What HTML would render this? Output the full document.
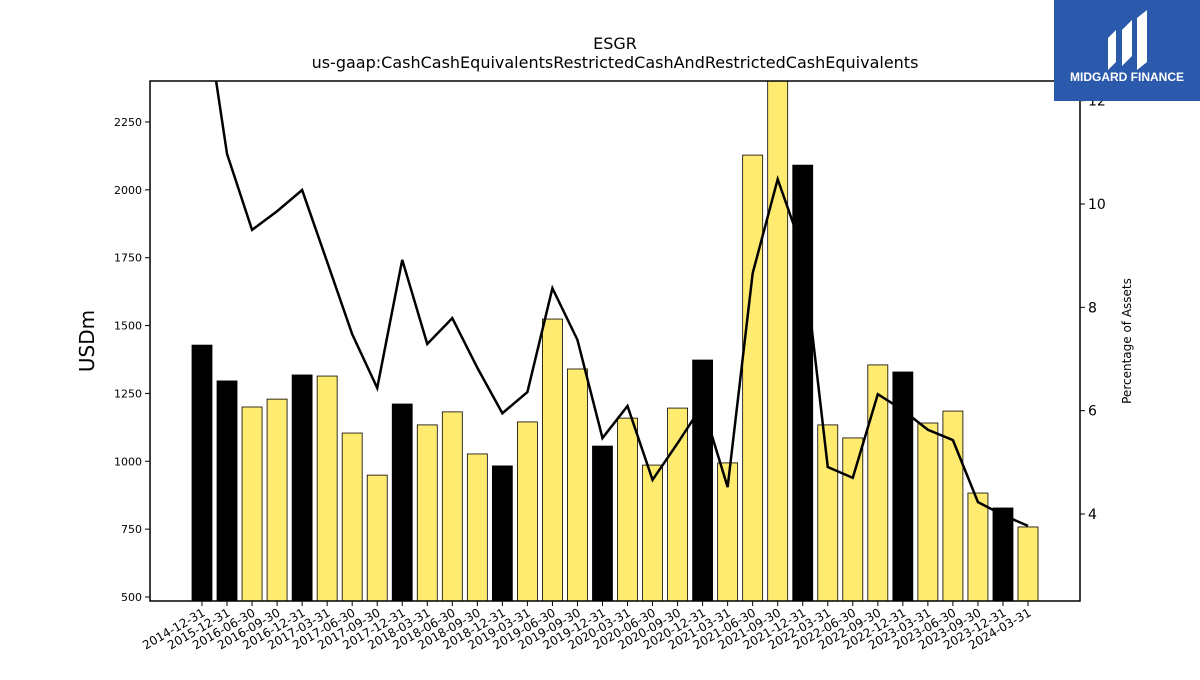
<!DOCTYPE html>
<html><head><meta charset="utf-8"><style>
body{margin:0;background:#fff;font-family:"Liberation Sans","DejaVu Sans",sans-serif}
</style></head><body>
<svg width="1200" height="675" viewBox="0 0 1200 675" xmlns="http://www.w3.org/2000/svg" id="chart" font-family="DejaVu Sans, Liberation Sans, sans-serif">
<text x="615" y="49" text-anchor="middle" font-size="16">ESGR</text>
<text x="615" y="68" text-anchor="middle" font-size="16">us-gaap:CashCashEquivalentsRestrictedCashAndRestrictedCashEquivalents</text>
<text transform="translate(94,341) rotate(-90)" text-anchor="middle" font-size="20">USDm</text>
<text transform="translate(1131,341) rotate(-90)" text-anchor="middle" font-size="12">Percentage of Assets</text>
<g id="bars"></g>
<g id="line"></g>
<g id="axes"></g>
<rect x="150" y="81" width="930" height="520" fill="none" stroke="#000" stroke-width="1.5"/>
<g>
<rect x="1054" y="0" width="146" height="101" fill="#2b5aad"/>
<path d="M1108 70 L1108 38 L1116 30 L1116 62 Z M1122 66 L1122 30 L1132 20 L1132 56 Z M1137 70 L1137 18 L1147 10 L1147 62 Z" fill="#fff"/>
<text x="1127" y="81" text-anchor="middle" font-size="12" font-weight="bold" fill="#fff" font-family="Liberation Sans, sans-serif">MIDGARD FINANCE</text>
</g>
</svg>
<script>
const categories=["2014-12-31","2015-12-31","2016-06-30","2016-09-30","2016-12-31","2017-03-31","2017-06-30","2017-09-30","2017-12-31","2018-03-31","2018-06-30","2018-09-30","2018-12-31","2019-03-31","2019-06-30","2019-09-30","2019-12-31","2020-03-31","2020-06-30","2020-09-30","2020-12-31","2021-03-31","2021-06-30","2021-09-30","2021-12-31","2022-03-31","2022-06-30","2022-09-30","2022-12-31","2023-03-31","2023-06-30","2023-09-30","2023-12-31","2024-03-31"];
const cashValues=[1428,1296,1200,1229,1318,1314,1104,949,1211,1134,1182,1027,983,1145,1524,1340,1056,1159,986,1196,1373,994,2128,2450,2091,1134,1086,1355,1329,1141,1185,883,828,758];
const pctValues=[14.2,10.97,9.5,9.86,10.27,8.88,7.48,6.44,8.92,7.29,7.79,6.83,5.95,6.36,8.37,7.37,5.47,6.09,4.66,5.37,6.11,4.52,8.66,10.48,9.1,4.91,4.70,6.32,6.01,5.63,5.43,4.23,3.98,3.77];
const leftTicks=[500,750,1000,1250,1500,1750,2000,2250];
const rightTicks=[4,6,8,10,12];
const NS="http://www.w3.org/2000/svg";
const L=150,R=1080,T=81,B=601;
const yL=v=>597-(v-500)/250*67.86;
const yR=v=>514-(v-4)/2*103.33;
const xC=i=>202+i*(1028-202)/(categories.length-1);
function mk(tag,attrs,parent){const e=document.createElementNS(NS,tag);for(const k in attrs)e.setAttribute(k,attrs[k]);parent.appendChild(e);return e;}
const bars=document.getElementById('bars'),line=document.getElementById('line'),axes=document.getElementById('axes');
const defs=mk('defs',{},bars);const cp=mk('clipPath',{id:'clip'},defs);mk('rect',{x:L,y:T,width:R-L,height:B-T},cp);
bars.setAttribute('clip-path','url(#clip)');line.setAttribute('clip-path','url(#clip)');
cashValues.forEach((v,i)=>{const y=yL(v);const isYE=categories[i].endsWith('12-31');
const r=mk('rect',{x:xC(i)-10,y:y,width:20,height:B-y,fill:isYE?'#000':'#ffeb70',stroke:'#000','stroke-width':0.8},bars);

});
const p=mk('polyline',{points:pctValues.map((v,i)=>xC(i)+','+yR(v)).join(' '),fill:'none',stroke:'#000','stroke-width':2.5},line);


leftTicks.forEach(v=>{const y=yL(v);mk('line',{x1:L-5,x2:L,y1:y,y2:y,stroke:'#000'},axes);
const t=mk('text',{x:L-8,y:y+4,'text-anchor':'end','font-size':11},axes);t.textContent=v;

});
rightTicks.forEach(v=>{const y=yR(v);mk('line',{x1:R,x2:R+5,y1:y,y2:y,stroke:'#000'},axes);
const t=mk('text',{x:R+8,y:y+5,'font-size':14},axes);t.textContent=v;

});
categories.forEach((c,i)=>{const x=xC(i);mk('line',{x1:x,x2:x,y1:B,y2:B+5,stroke:'#000'},axes);
const t=mk('text',{transform:`translate(${x+4},${B+14}) rotate(-30)`,'text-anchor':'end','font-size':12},axes);t.textContent=c;

});
</script>
</body></html>
